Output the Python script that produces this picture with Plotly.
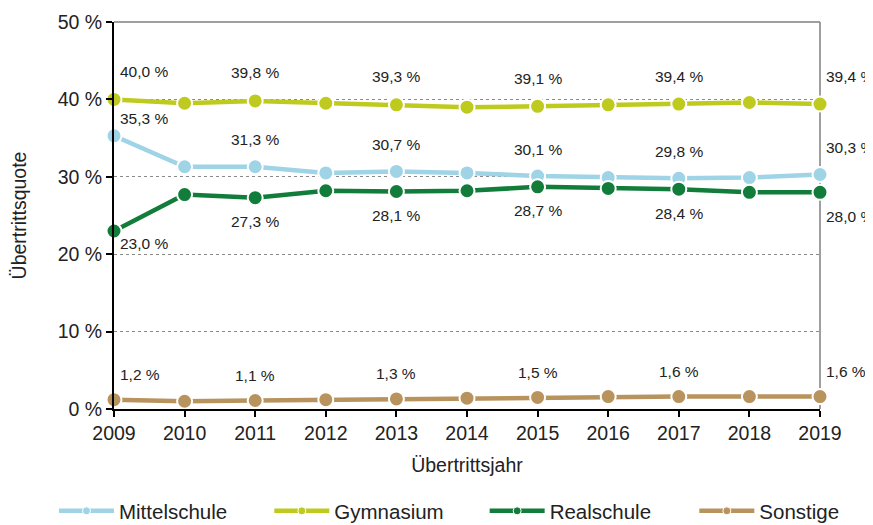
import plotly.graph_objects as go

years = [2009, 2010, 2011, 2012, 2013, 2014, 2015, 2016, 2017, 2018, 2019]
mittelschule = [35.3, 31.3, 31.3, 30.5, 30.7, 30.5, 30.1, 29.9, 29.8, 29.9, 30.3]
gymnasium = [40.0, 39.5, 39.8, 39.5, 39.3, 39.0, 39.1, 39.3, 39.4, 39.6, 39.4]
realschule = [23.0, 27.7, 27.3, 28.2, 28.1, 28.2, 28.7, 28.5, 28.4, 28.0, 28.0]
sonstige = [1.2, 1.0, 1.1, 1.2, 1.3, 1.4, 1.5, 1.6, 1.6, 1.6, 1.6]
y_ticks = [0, 10, 20, 30, 40, 50]
y_tick_labels = ["0 %", "10 %", "20 %", "30 %", "40 %", "50 %"]

series = [
    ("Mittelschule", mittelschule, "#9fd3e6"),
    ("Gymnasium", gymnasium, "#bfca1e"),
    ("Realschule", realschule, "#127c3a"),
    ("Sonstige", sonstige, "#b8935d"),
]

FONT = "Liberation Sans, Arial, sans-serif"
TXT = "#222222"

fig = go.Figure()
for name, vals, col in series:
    fig.add_trace(go.Scatter(
        x=years, y=vals, name=name, mode="lines+markers", showlegend=False,
        line=dict(color=col, width=4.5),
        marker=dict(size=15, color=col, line=dict(color="white", width=2)),
        cliponaxis=False,
    ))

# one legend per entry so the entries can be spread like the reference
legend_ids = ["legend", "legend2", "legend3", "legend4"]
legend_x = [-0.085, 0.22, 0.525, 0.822]
for (name, vals, col), lid in zip(series, legend_ids):
    fig.add_trace(go.Scatter(
        x=[None], y=[None], name=name, mode="lines+markers", legend=lid,
        line=dict(color=col, width=4.5),
        marker=dict(size=8, color=col, line=dict(color="white", width=1)),
    ))

def fmt(v):
    return f"{v:.1f}".replace(".", ",") + " %"

offsets = {"Mittelschule": 27, "Gymnasium": 28, "Realschule": -24, "Sonstige": 25}
annotations = []
for name, vals, col in series:
    for yr, v in zip(years, vals):
        if yr % 2 == 0:
            continue
        ys = offsets[name]
        if name == "Mittelschule" and yr == 2009:
            ys = 17
        if name == "Realschule" and yr == 2009:
            ys = -13
        if yr in (2009, 2019):
            xa, xs = "left", 4
        else:
            xa, xs = "center", 0
        annotations.append(dict(
            x=yr, y=v, text=fmt(v), showarrow=False, xanchor=xa, yanchor="middle",
            xshift=xs, yshift=ys, font=dict(size=15.5, color=TXT, family=FONT),
        ))

legend_style = dict(orientation="h", xanchor="left", y=-0.2636, yanchor="middle",
                    font=dict(size=20.5, color=TXT, family=FONT), itemwidth=55,
                    bgcolor="rgba(0,0,0,0)")
layout_legends = {lid: dict(legend_style, x=lx) for lid, lx in zip(legend_ids, legend_x)}

fig.update_layout(
    width=873, height=525,
    margin=dict(l=106, r=61, t=14, b=124, autoexpand=False),
    paper_bgcolor="white", plot_bgcolor="white",
    font=dict(family=FONT, color=TXT),
    showlegend=True,
    annotations=annotations,
    xaxis=dict(
        range=[2009, 2019], tickvals=years, ticktext=[str(y) for y in years],
        showgrid=False, showline=True, linecolor="black", linewidth=2,
        ticks="outside", ticklen=6, tickcolor="black", tickwidth=2,
        tickfont=dict(size=19.5, color=TXT), automargin=False,
        title=dict(text="Übertrittsjahr", font=dict(size=19.5, color=TXT), standoff=15),
        zeroline=False,
    ),
    yaxis=dict(
        range=[0, 50], tickvals=y_ticks, ticktext=y_tick_labels,
        showgrid=True, gridcolor="#8a8a8a", griddash="dot", gridwidth=1,
        showline=True, linecolor="black", linewidth=2,
        ticks="outside", ticklen=6, tickcolor="black", tickwidth=2,
        tickfont=dict(size=19.5, color=TXT), automargin=False,
        title=dict(text="Übertrittsquote", font=dict(size=19.5, color=TXT), standoff=33),
        zeroline=False,
    ),
    shapes=[
        dict(type="line", xref="paper", yref="paper", x0=0, x1=1, y0=1, y1=1,
             line=dict(color="#7f7f7f", width=1.5), layer="below"),
        dict(type="line", xref="paper", yref="paper", x0=1, x1=1, y0=0, y1=1,
             line=dict(color="#7f7f7f", width=1.5), layer="below"),
    ],
    **layout_legends,
)

fig.write_html("out.html")
